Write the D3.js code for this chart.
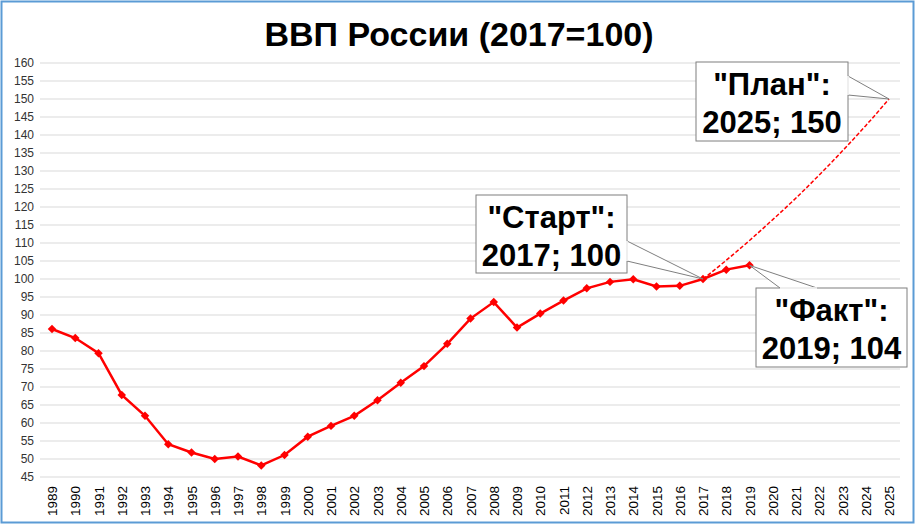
<!DOCTYPE html>
<html><head><meta charset="utf-8">
<script src="https://cdn.jsdelivr.net/npm/d3@7"></script>
<style>body{margin:0;background:#fff;font-family:"Liberation Sans",Arial,sans-serif}</style>
</head><body><svg id="chart" width="917" height="525"></svg>
<script>
const years = d3.range(1989, 2020);
const fact = [86.1,83.6,79.4,67.8,62,54.1,51.8,50,50.7,48.2,51.1,56.2,59.2,62,66.3,71.2,75.8,82,89,93.6,86.5,90.4,94,97.4,99.2,99.9,97.9,98.1,100,102.6,103.8];
const planYears = d3.range(2017, 2026);
const plan = [100,105.2,110.7,116.5,122.5,128.9,135.6,142.6,150];
const allYears = d3.range(1989, 2026);
const yTicks = d3.range(45, 161, 5);

const svg = d3.select("#chart");
svg.append("rect").attr("x",1.5).attr("y",1.5).attr("width",912).attr("height",521)
  .attr("fill","#fff").attr("stroke","#5b9bd5").attr("stroke-width",2);

svg.append("text").attr("x",459).attr("y",46).attr("text-anchor","middle")
  .style("font-size","34px").style("font-weight","bold").text("ВВП России (2017=100)");

const x = d3.scalePoint().domain(allYears).range([52, 889]);
const y = d3.scaleLinear().domain([45, 160]).range([477, 63]);

svg.append("g").selectAll("line").data(yTicks).join("line")
  .attr("x1",40).attr("x2",900).attr("y1",d=>y(d)).attr("y2",d=>y(d))
  .attr("stroke","#d9d9d9").attr("stroke-width",1);

svg.append("g").attr("transform","translate(40,0)")
  .call(d3.axisLeft(y).tickValues(yTicks).tickSize(0).tickPadding(6))
  .call(g=>g.select(".domain").remove())
  .selectAll("text").style("font-size","12px").style("fill","#333").style("font-family","Liberation Sans, Arial");

svg.append("g").attr("transform","translate(0,484)")
  .call(d3.axisBottom(x).tickSize(0))
  .call(g=>g.select(".domain").remove())
  .selectAll("text").attr("transform","rotate(-90)").attr("text-anchor","end")
  .attr("x",-2).attr("y",0).attr("dy","0.35em")
  .style("font-size","13.5px").style("fill","#000").style("font-family","Liberation Sans, Arial");

svg.append("path").datum(planYears.map((d,i)=>[d,plan[i]]))
  .attr("fill","none").attr("stroke","red").attr("stroke-width",1.5).attr("stroke-dasharray","4,2")
  .attr("d", d3.line().x(d=>x(d[0])).y(d=>y(d[1])).curve(d3.curveMonotoneX));

const pts = years.map((d,i)=>[d,fact[i]]);
svg.append("path").datum(pts).attr("fill","none").attr("stroke","red").attr("stroke-width",2.5)
  .attr("d", d3.line().x(d=>x(d[0])).y(d=>y(d[1])));
svg.append("g").selectAll("path").data(pts).join("path")
  .attr("transform",d=>`translate(${x(d[0])},${y(d[1])}) rotate(45)`)
  .attr("d", d3.symbol(d3.symbolSquare, 36)).attr("fill","red");

function callout(bx, by, bw, bh, lines, ax, ay, a1, a2) {
  const g = svg.append("g");
  g.append("path").attr("d",`M${a1[0]},${a1[1]}L${ax},${ay}L${a2[0]},${a2[1]}`)
    .attr("fill","#fff").attr("stroke","#7f7f7f").attr("stroke-width",1);
  g.append("rect").attr("x",bx).attr("y",by).attr("width",bw).attr("height",bh)
    .attr("fill","#fff").attr("stroke","#7f7f7f").attr("stroke-width",1);
  g.append("path").attr("d",`M${a1[0]},${a1[1]}L${a2[0]},${a2[1]}`).attr("stroke","#fff").attr("stroke-width",1.5);
  lines.forEach((t,i)=>g.append("text").attr("x",bx+bw/2).attr("y",by+33+i*38)
    .attr("text-anchor","middle").style("font-size","31px").style("font-weight","bold").text(t));
}
callout(696, 62, 152, 79, ['"План":','2025; 150'], x(2025), y(150), [848,76], [848,95]);
callout(476, 195, 151, 78, ['"Старт":','2017; 100'], x(2017), y(100), [627,241], [627,261]);
callout(756, 288, 151, 79, ['"Факт":','2019; 104'], x(2019), y(103.8), [780,288], [817,288]);
</script></body></html>
